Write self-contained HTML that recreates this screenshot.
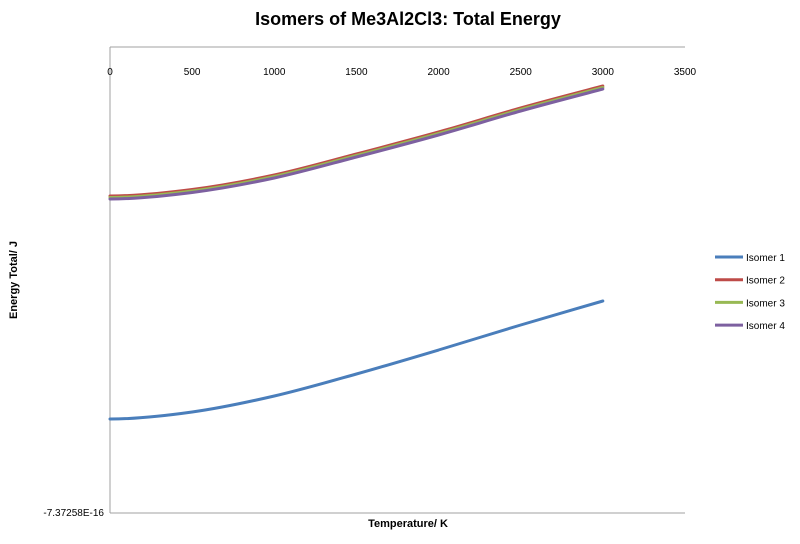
<!DOCTYPE html>
<html><head><meta charset="utf-8"><style>
body{margin:0;background:#fff;}
svg text{font-family:"Liberation Sans",sans-serif;}
</style></head><body>
<svg width="800" height="539">
<text x="408" y="25" text-anchor="middle" font-size="18" font-weight="bold">Isomers of Me3Al2Cl3: Total Energy</text>
<g id="plot"></g>
<text x="408" y="527" text-anchor="middle" font-size="11" font-weight="bold">Temperature/ K</text>
<text transform="translate(17,280) rotate(-90)" text-anchor="middle" font-size="11" font-weight="bold">Energy Total/  J</text>
<g id="legend"></g>
</svg>
<script>
const temps=[0,500,1000,1500,2000,2500,3000];
const isomer1=[94,101,117,139,163,188,212];
const isomer2=[317,323.5,338,359,381,405,427];
const isomer3=[315.5,322,336.5,357.5,379.5,403.5,425.5];
const isomer4=[314,320.5,335,356,378,402,424];
const xTicks=[0,500,1000,1500,2000,2500,3000,3500];
const yMinLabel="-7.37258E-16";
const seriesNames=["Isomer 1","Isomer 2","Isomer 3","Isomer 4"];
const seriesData=[isomer1,isomer2,isomer3,isomer4];
const colors=["#4a7ebb","#be4b48","#98b954","#7d60a0"];
const L=110,R=685,T=47,B=513;
const xs=v=>L+v/3500*(R-L);
const ys=v=>B-v/466*(B-T);
const NS="http://www.w3.org/2000/svg";
const plot=document.getElementById('plot');
function mk(tag,attrs,parent){const e=document.createElementNS(NS,tag);for(const k in attrs)e.setAttribute(k,attrs[k]);parent.appendChild(e);return e;}
let ax=mk('line',{x1:L,y1:T,x2:R,y2:T,stroke:'#a0a0a0','stroke-width':1},plot);


let ay=mk('line',{x1:L,y1:T,x2:L,y2:B,stroke:'#a0a0a0','stroke-width':1},plot);


let ab=mk('line',{x1:L,y1:B,x2:R,y2:B,stroke:'#a0a0a0','stroke-width':1},plot);


xTicks.forEach(t=>{const tx=mk('text',{x:xs(t),y:75,'text-anchor':'middle','font-size':10},plot);tx.textContent=t;

});
const yl=mk('text',{x:104,y:516,'text-anchor':'end','font-size':10},plot);yl.textContent=yMinLabel;


function pathFor(arr){const pts=temps.map((t,i)=>[xs(t),ys(arr[i])]);
let d='M'+pts[0][0]+','+pts[0][1];
const n=pts.length;const m=[];
for(let i=0;i<n;i++){if(i===0)m.push(0);else if(i===n-1)m.push((pts[i][1]-pts[i-1][1])/(pts[i][0]-pts[i-1][0]));
else m.push((pts[i+1][1]-pts[i-1][1])/(pts[i+1][0]-pts[i-1][0]));}
for(let i=0;i<n-1;i++){const p1=pts[i],p2=pts[i+1],h=(p2[0]-p1[0])/3;
d+=' C'+(p1[0]+h)+','+(p1[1]+m[i]*h)+' '+(p2[0]-h)+','+(p2[1]-m[i+1]*h)+' '+p2[0]+','+p2[1];}
return d;}
seriesData.forEach((arr,i)=>{const p=mk('path',{d:pathFor(arr),fill:'none',stroke:colors[i],'stroke-width':3,'stroke-linecap':'round'},plot);

});
const lg=document.getElementById('legend');
seriesNames.forEach((n,i)=>{const y=257+i*22.7;
const g=mk('g',{},lg);


mk('line',{x1:715,y1:y,x2:743,y2:y,stroke:colors[i],'stroke-width':3},g);
const t=mk('text',{x:746,y:y+4,'font-size':10},g);t.textContent=n;});
</script>
</body></html>
